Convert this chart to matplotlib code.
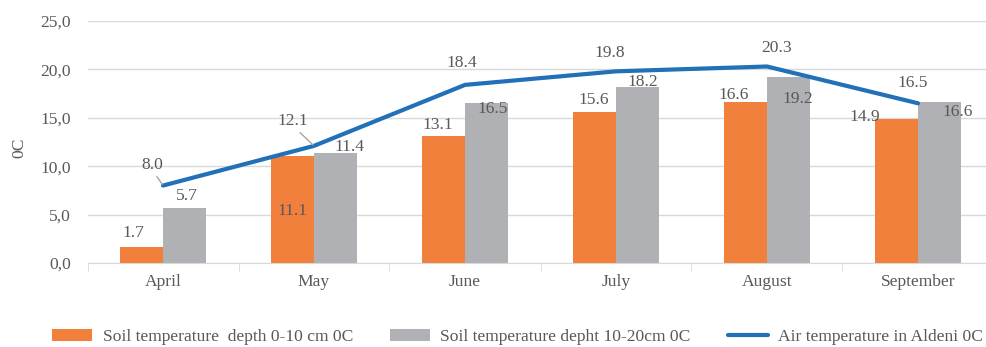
import numpy as np
import matplotlib.pyplot as plt
from matplotlib.ticker import FuncFormatter

# monthly temperatures, Aldeni
months = ['April', 'May', 'June', 'July', 'August', 'September']
soil_0_10 = [1.7, 11.1, 13.1, 15.6, 16.6, 14.9]
soil_10_20 = [5.7, 11.4, 16.5, 18.2, 19.2, 16.6]
air_temp = [8.0, 12.1, 18.4, 19.8, 20.3, 16.5]

txt = '#595959'
plt.rcParams['font.family'] = ['Liberation Serif', 'DejaVu Serif']
plt.rcParams['font.size'] = 12.6

fig = plt.figure(figsize=(9.87, 3.47), dpi=100)
ax = fig.add_axes([87.5/987, 84/347, 906/987, 242/347])

x = np.arange(len(months))
w = 0.285
b1 = ax.bar(x - w/2, soil_0_10, w, color='#F0803C', zorder=2,
            label='Soil temperature  depth 0-10 cm 0C')
b2 = ax.bar(x + w/2, soil_10_20, w, color='#B0B1B5', zorder=2,
            label='Soil temperature depht 10-20cm 0C')
ln, = ax.plot(x, air_temp, color='#2170B8', lw=3, zorder=3,
              solid_capstyle='round', label='Air temperature in Aldeni 0C')

# label offsets in pixels (dx, dy up)
off1 = [(-8, 14), (0, -55), (-6, 11), (-1, 12), (-12, 7), (-32, 2)]
off2 = [(2, 12), (14, 6), (6, -6), (5, 5), (9, -22), (18, -10)]
offl = [(-11, 21), (-21, 25), (-3, 22), (-6, 18), (10, 18), (-5, 20)]

for i in range(len(months)):
    ax.annotate(f'{soil_0_10[i]:.1f}', (x[i] - w/2, soil_0_10[i]),
                xytext=off1[i], textcoords='offset pixels',
                ha='center', va='center', color=txt, zorder=5)
    ax.annotate(f'{soil_10_20[i]:.1f}', (x[i] + w/2, soil_10_20[i]),
                xytext=off2[i], textcoords='offset pixels',
                ha='center', va='center', color=txt, zorder=5)
    arrow = None
    if i < 2:
        # leader line from the label corner down to the point
        arrow = dict(arrowstyle='-', color='#A6A6A6', lw=1, shrinkA=1, shrinkB=1,
                     relpos=(0.6, 0.0))
    ax.annotate(f'{air_temp[i]:.1f}', (x[i], air_temp[i]),
                xytext=offl[i], textcoords='offset pixels',
                ha='center', va='center', color=txt, zorder=5,
                arrowprops=arrow)

ax.set_xlim(-0.5, 5.5)
ax.set_ylim(0, 25)
ax.set_yticks(np.arange(0, 26, 5))
ax.yaxis.set_major_formatter(FuncFormatter(lambda v, p: f'{v:.1f}'.replace('.', ',')))
ax.set_xticks(x)
ax.set_xticklabels(months)
ax.set_xticks(np.arange(-0.5, 6, 1), minor=True)
ax.tick_params(axis='x', which='major', length=0, pad=8, colors=txt)
ax.tick_params(axis='x', which='minor', length=6, color='#D9D9D9')
ax.tick_params(axis='y', length=0, pad=12, colors=txt)
ax.grid(axis='y', color='#D9D9D9', lw=1, zorder=0)
for s in ['top', 'right', 'left']:
    ax.spines[s].set_visible(False)
ax.spines['bottom'].set_color('#D9D9D9')
ax.spines['bottom'].set_zorder(4)

fig.text(19/987, 1 - 148/347, '0C', rotation=90, ha='center', va='center', color=txt)

fig.legend(handles=[b1, b2, ln], loc='center left', bbox_to_anchor=(52/987, 10/347),
           ncol=3, frameon=False, handlelength=2.3, handletextpad=0.6,
           columnspacing=2.1, labelcolor=txt, borderpad=0, borderaxespad=0)

fig.savefig('out.png', dpi=100)
